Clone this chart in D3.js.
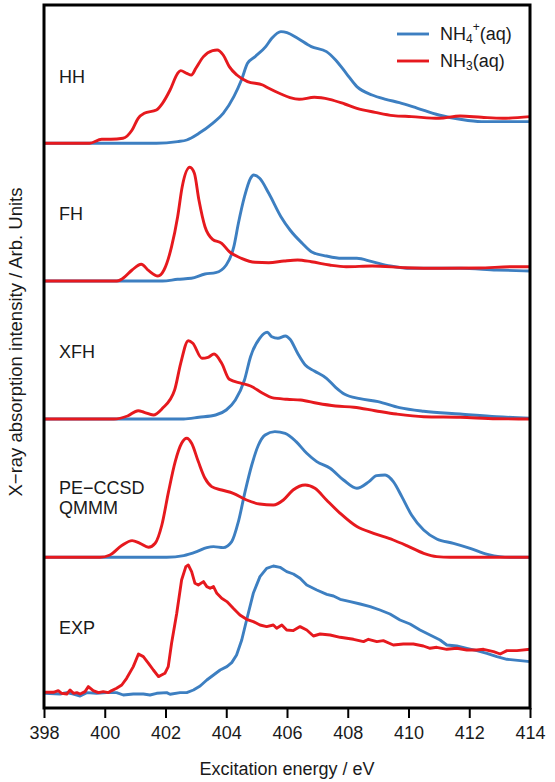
<!DOCTYPE html>
<html>
<head>
<meta charset="utf-8">
<script src="https://cdn.jsdelivr.net/npm/d3@7"></script>
<style>
  html, body { margin: 0; padding: 0; background: #fff; }
  svg { display: block; font-family: "Liberation Sans", Arial, Helvetica, sans-serif; }
</style>
</head>
<body>
<svg id="chart" width="555" height="782"></svg>
<script>
// ---------------- DATA ----------------
const panels = ["HH", "FH", "XFH", "PE-CCSD QMMM", "EXP"];
const panelLabelLines = [["HH"], ["FH"], ["XFH"], ["PE\u2212CCSD", "QMMM"], ["EXP"]];
const offsets = [56.47, 42.7, 28.9, 15.07, 1.47];
const xTicks = [398, 400, 402, 404, 406, 408, 410, 412, 414];
const seriesNames = ["NH4+(aq)", "NH3(aq)"];

// HH
const hhRedE = [398, 399.5, 399.9, 400.2, 400.6, 400.9, 401.1, 401.3, 401.7, 401.9, 402.15, 402.4, 402.5, 402.7, 402.85, 403.0, 403.25, 403.55, 403.7, 403.9, 404.1, 404.35, 404.7, 405.2, 405.4, 405.8, 406.1, 406.4, 406.9, 407.4, 407.9, 408.3, 408.9, 409.5, 410.1, 411.0, 411.7, 412.4, 413.1, 414];
const hhRedI = [0, 0, 0.4, 0.4, 0.5, 1.33, 2.5, 3.0, 3.33, 4.0, 5.33, 7.0, 7.27, 7.0, 6.83, 7.5, 8.67, 9.27, 9.33, 8.83, 7.67, 6.83, 6.17, 5.83, 5.5, 4.93, 4.57, 4.4, 4.6, 4.4, 3.93, 3.5, 3.1, 2.77, 2.67, 2.5, 2.73, 2.6, 2.5, 2.67];
const hhBlueE = [398, 401.7, 402.4, 402.7, 403.1, 403.55, 403.9, 404.25, 404.5, 404.7, 404.95, 405.3, 405.5, 405.8, 406.0, 406.35, 406.8, 407.3, 407.6, 407.95, 408.3, 408.8, 409.25, 409.7, 410.3, 411.0, 411.7, 412.4, 413.1, 414];
const hhBlueI = [0, 0, 0.17, 0.33, 1.0, 2.0, 3.0, 4.67, 6.33, 8.0, 8.67, 9.67, 10.5, 11.17, 11.07, 10.5, 9.67, 9.17, 8.33, 7.0, 5.67, 4.83, 4.4, 4.07, 3.5, 2.83, 2.4, 2.17, 2.17, 2.17];

// FH
const fhRedE = [398, 400.4, 400.6, 400.9, 401.2, 401.45, 401.75, 401.95, 402.2, 402.4, 402.55, 402.8, 402.95, 403.1, 403.3, 403.55, 403.85, 404.1, 404.5, 404.95, 405.4, 405.9, 406.35, 406.8, 407.4, 407.95, 408.8, 409.9, 411.1, 412.3, 413.5, 414];
const fhRedI = [0, 0, 0.27, 1.1, 1.67, 1.03, 0.5, 1.1, 3.43, 6.43, 9.43, 11.37, 10.77, 8.1, 5.43, 4.17, 3.77, 2.93, 2.27, 1.87, 1.83, 2.0, 2.1, 1.93, 1.6, 1.43, 1.5, 1.33, 1.27, 1.3, 1.43, 1.43];
const fhBlueE = [398, 401.9, 402.4, 402.85, 403.3, 403.65, 404.0, 404.25, 404.4, 404.6, 404.8, 404.9, 405.1, 405.4, 405.8, 406.1, 406.5, 406.8, 407.3, 407.8, 408.3, 408.8, 409.4, 410.1, 411.7, 412.9, 414];
const fhBlueI = [0, 0, 0.17, 0.27, 0.7, 0.83, 1.6, 3.43, 5.77, 8.43, 10.27, 10.6, 10.27, 8.77, 6.43, 5.1, 3.77, 2.93, 2.5, 2.27, 2.27, 1.93, 1.5, 1.27, 1.27, 1.1, 1.0];

// XFH
const xfhRedE = [398, 400.3, 400.75, 401.1, 401.3, 401.6, 401.9, 402.3, 402.5, 402.75, 402.9, 403.2, 403.4, 403.6, 403.85, 404.1, 404.5, 404.8, 405.2, 405.5, 406.0, 406.45, 407.0, 407.6, 408.2, 408.9, 409.6, 410.5, 411.7, 412.9, 414];
const xfhRedI = [0, 0, 0.3, 0.83, 0.67, 0.4, 1.07, 2.9, 5.57, 7.83, 7.57, 6.07, 6.17, 6.5, 5.57, 3.97, 3.57, 3.3, 2.57, 2.13, 1.97, 1.9, 1.57, 1.3, 1.17, 0.83, 0.5, 0.23, 0.17, 0.03, 0];
const xfhBlueE = [398, 402.6, 403.1, 403.65, 404.0, 404.3, 404.6, 404.8, 405.1, 405.35, 405.5, 405.7, 405.95, 406.1, 406.35, 406.6, 406.9, 407.3, 407.6, 407.9, 408.4, 409.0, 409.7, 410.5, 411.7, 412.9, 414];
const xfhBlueI = [0, 0, 0.17, 0.4, 0.9, 1.9, 3.9, 6.23, 8.07, 8.67, 8.23, 8.07, 8.3, 7.97, 6.57, 5.4, 4.8, 4.07, 3.17, 2.47, 2.03, 1.73, 1.13, 0.77, 0.5, 0.23, 0.07];

// PE-CCSD QMMM
const peRedE = [398, 399.84, 400.17, 400.56, 400.9, 401.16, 401.44, 401.66, 401.88, 402.1, 402.32, 402.53, 402.7, 402.86, 403.08, 403.3, 403.52, 403.85, 404.23, 404.67, 405.1, 405.55, 405.88, 406.2, 406.6, 406.92, 407.3, 407.75, 408.3, 408.85, 409.5, 409.94, 410.5, 410.93, 411.37, 414];
const peRedI = [0, 0, 0.23, 1.17, 1.67, 1.4, 1.0, 1.4, 3.23, 6.57, 9.57, 11.4, 11.9, 11.4, 9.57, 7.9, 7.07, 6.73, 6.4, 5.73, 5.33, 5.23, 5.73, 6.73, 7.23, 6.9, 5.73, 4.4, 3.07, 2.4, 1.73, 1.17, 0.4, 0.07, 0, 0];
const peBlueE = [398, 402.04, 402.6, 403.03, 403.36, 403.58, 403.9, 404.18, 404.4, 404.62, 404.84, 405.06, 405.28, 405.6, 405.94, 406.3, 406.65, 406.98, 407.42, 407.86, 408.3, 408.7, 408.95, 409.23, 409.5, 409.78, 410.1, 410.5, 410.93, 411.48, 412.03, 412.6, 413.0, 413.45, 414];
const peBlueI = [0, 0, 0.17, 0.57, 0.97, 1.07, 0.97, 1.57, 3.57, 6.57, 9.23, 11.23, 12.23, 12.57, 12.4, 11.57, 10.4, 9.57, 8.9, 7.73, 6.9, 7.57, 8.17, 8.23, 7.57, 6.07, 4.23, 2.73, 1.83, 1.4, 0.9, 0.3, 0.07, 0, 0];

// EXP
const expRedE = [398.03, 398.31, 398.47, 398.58, 398.75, 398.86, 398.97, 399.08, 399.19, 399.35, 399.46, 399.62, 399.79, 399.95, 400.12, 400.23, 400.39, 400.56, 400.72, 400.94, 401.11, 401.27, 401.44, 401.6, 401.77, 401.87, 401.98, 402.09, 402.2, 402.37, 402.53, 402.67, 402.75, 402.86, 402.97, 403.08, 403.25, 403.36, 403.47, 403.58, 403.69, 403.85, 404.02, 404.23, 404.45, 404.67, 404.89, 405.11, 405.33, 405.55, 405.66, 405.83, 405.99, 406.21, 406.43, 406.65, 406.87, 407.09, 407.42, 407.75, 408.19, 408.52, 408.68, 408.96, 409.17, 409.5, 409.83, 410.16, 410.49, 410.71, 410.93, 411.26, 411.59, 411.92, 412.25, 412.47, 412.8, 413.02, 413.24, 413.57, 414.0];
const expRedI = [0.1, 0.1, 0.27, 0, -0.07, 0.33, 0, 0.07, -0.07, 0.17, 0.67, 0.27, 0.07, 0.17, 0.07, 0.27, 0.5, 0.83, 1.5, 2.67, 3.93, 3.67, 3.0, 2.33, 1.67, 1.83, 2.0, 2.67, 5.0, 8.0, 11.33, 12.67, 12.83, 12.17, 11.0, 10.83, 11.17, 10.67, 10.5, 10.67, 10.0, 9.5, 9.17, 8.5, 7.83, 7.4, 7.17, 6.83, 6.67, 6.83, 6.5, 6.83, 6.33, 6.27, 6.67, 6.33, 5.73, 5.93, 5.83, 5.6, 5.4, 5.17, 5.4, 5.17, 5.27, 4.83, 4.93, 4.93, 4.73, 4.5, 4.6, 4.4, 4.5, 4.33, 4.33, 4.4, 4.17, 3.93, 4.27, 4.27, 4.4];
const expBlueE = [398.03, 398.53, 398.75, 398.97, 399.19, 399.41, 399.73, 400.06, 400.39, 400.61, 400.94, 401.27, 401.49, 401.71, 402.04, 402.15, 402.48, 402.7, 402.92, 403.14, 403.36, 403.58, 403.8, 404.02, 404.18, 404.34, 404.51, 404.67, 404.89, 405.11, 405.33, 405.55, 405.77, 405.99, 406.21, 406.43, 406.65, 406.98, 407.31, 407.53, 407.75, 408.08, 408.41, 408.74, 409.06, 409.39, 409.72, 410.05, 410.38, 410.71, 411.04, 411.26, 411.59, 411.92, 412.25, 412.58, 412.91, 413.24, 413.68, 414.0];
const expBlueI = [0, -0.07, 0.07, -0.07, -0.27, 0.07, 0, 0.07, 0.07, -0.17, -0.07, -0.07, -0.17, 0, 0.07, -0.1, 0.07, 0.07, 0.33, 0.73, 1.33, 1.83, 2.33, 2.67, 3.07, 3.83, 5.33, 7.33, 10.0, 11.67, 12.5, 12.73, 12.6, 12.17, 11.93, 11.5, 10.83, 10.33, 9.9, 9.73, 9.4, 9.17, 8.93, 8.67, 8.33, 7.93, 7.33, 6.93, 6.33, 5.83, 5.33, 4.83, 4.73, 4.5, 4.27, 4.0, 3.67, 3.4, 3.27, 3.17];

const blueE = [hhBlueE, fhBlueE, xfhBlueE, peBlueE, expBlueE];
const blueI = [hhBlueI, fhBlueI, xfhBlueI, peBlueI, expBlueI];
const redE = [hhRedE, fhRedE, xfhRedE, peRedE, expRedE];
const redI = [hhRedI, fhRedI, xfhRedI, peRedI, expRedI];

// ---------------- DRAW ----------------
const W = 555, H = 782;
const m = { left: 44, right: 25, top: 5, bottom: 74 };
const svg = d3.select("#chart");
const BLUE = "#3d7fc1", RED = "#e6191e", INK = "#1a1a1a";

const x = d3.scaleLinear().domain([398, 414]).range([m.left, W - m.right]);
const y = d3.scaleLinear().domain([0, 70.3]).range([H - m.bottom, m.top]);

svg.append("defs").append("clipPath").attr("id", "clip")
  .append("rect").attr("x", m.left).attr("y", m.top)
  .attr("width", W - m.left - m.right).attr("height", H - m.top - m.bottom);

const g = svg.append("g").attr("clip-path", "url(#clip)");

panels.forEach((p, k) => {
  const smooth = p !== "EXP";
  const line = d3.line()
    .x(d => x(d[0]))
    .y(d => y(d[1] + offsets[k]))
    .curve(smooth ? d3.curveMonotoneX : d3.curveLinear);
  const bd = blueE[k].map((e, i) => [e, blueI[k][i]]);
  const rd = redE[k].map((e, i) => [e, redI[k][i]]);
  g.append("path").datum(bd).attr("d", line)
    .attr("fill", "none").attr("stroke", BLUE).attr("stroke-width", 2.9)
    .attr("stroke-linejoin", "round");
  g.append("path").datum(rd).attr("d", line)
    .attr("fill", "none").attr("stroke", RED).attr("stroke-width", 2.9)
    .attr("stroke-linejoin", "round");
});

// panel labels
const labelY = [77, 214, 352, 488, 628];
panels.forEach((p, k) => {
  const lines = panelLabelLines[k];
  const t = svg.append("text").attr("x", 59).attr("font-size", 18).attr("fill", INK)
    .attr("dominant-baseline", "central");
  lines.forEach((ln, j) => {
    t.append("tspan").attr("x", 59)
      .attr("y", labelY[k] + j * 20)
      .text(ln);
  });
});

// frame
svg.append("rect").attr("x", m.left).attr("y", m.top)
  .attr("width", W - m.left - m.right).attr("height", H - m.top - m.bottom)
  .attr("fill", "none").attr("stroke", "#000").attr("stroke-width", 3);

// x axis
const xAxis = d3.axisBottom(x).tickValues(xTicks).tickSize(10).tickPadding(8).tickFormat(d3.format("d"));
const ax = svg.append("g").attr("transform", `translate(0,${H - m.bottom})`).call(xAxis);
ax.select(".domain").remove();
ax.selectAll(".tick line").attr("stroke", "#000").attr("stroke-width", 2);
ax.selectAll(".tick text").attr("font-size", 18).attr("fill", INK)
  .attr("font-family", "Liberation Sans, Arial, sans-serif");

// axis titles
svg.append("text").attr("x", (m.left + W - m.right) / 2).attr("y", 769)
  .attr("text-anchor", "middle").attr("dominant-baseline", "central")
  .attr("font-size", 18).attr("fill", INK).text("Excitation energy / eV");

svg.append("text")
  .attr("transform", `translate(15,${342}) rotate(-90)`)
  .attr("text-anchor", "middle").attr("dominant-baseline", "central")
  .attr("font-size", 18.5).attr("fill", INK)
  .text("X\u2212ray absorption intensity / Arb. Units");

// legend
const legY = [34, 61];
const legColors = [BLUE, RED];
legY.forEach((ly, i) => {
  svg.append("line").attr("x1", 397).attr("x2", 429).attr("y1", ly).attr("y2", ly)
    .attr("stroke", legColors[i]).attr("stroke-width", 2.9);
});
const t1 = svg.append("text").attr("x", 440).attr("y", legY[0]).attr("dominant-baseline", "central")
  .attr("font-size", 18).attr("fill", INK);
t1.append("tspan").text("NH");
t1.append("tspan").attr("font-size", 12).attr("dy", 5).text("4");
t1.append("tspan").attr("font-size", 12).attr("dy", -12).text("+");
t1.append("tspan").attr("dy", 7).text("(aq)");
const t2 = svg.append("text").attr("x", 440).attr("y", legY[1]).attr("dominant-baseline", "central")
  .attr("font-size", 18).attr("fill", INK);
t2.append("tspan").text("NH");
t2.append("tspan").attr("font-size", 12).attr("dy", 5).text("3");
t2.append("tspan").attr("dy", -5).text("(aq)");
</script>
</body>
</html>
